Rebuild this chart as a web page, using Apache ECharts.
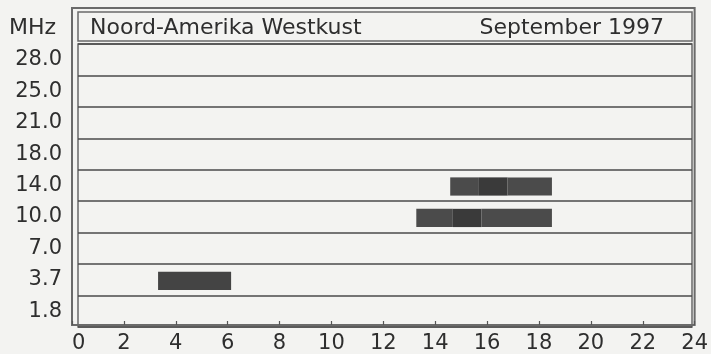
<!DOCTYPE html>
<html>
<head>
<meta charset="utf-8">
<script src="https://cdn.jsdelivr.net/npm/echarts@6/dist/echarts.min.js"></script>
<style>
  html, body { margin: 0; padding: 0; background: #f3f3f1; }
  #chart { width: 711px; height: 354px; }
</style>
</head>
<body>
<div id="chart"></div>
<script>
// Frequency bands (MHz), bottom to top
const bandLabels = ['1.8', '3.7', '7.0', '10.0', '14.0', '18.0', '21.0', '25.0', '28.0'];

// Open periods (UTC hours) per band, split where the shading changes
const openBand  = ['3.7', '10.0', '10.0', '10.0', '14.0', '14.0', '14.0'];
const openFrom  = [3.3, 13.2, 14.6, 15.7, 14.5, 15.6, 16.7];
const openTo    = [6.1, 14.6, 15.7, 18.4, 15.6, 16.7, 18.4];
const openLevel = [0, 1, 2, 1, 1, 2, 1];

const titleText = 'Noord-Amerika Westkust';
const periodText = 'September 1997';
const unitText = 'MHz';

const levelColors = ['#444444', '#4b4b4b', '#3a3a3a'];
const font = 'DejaVu Sans';
const ink = '#2e2e2e';
const frame = '#6a6a6a';

const openData = openBand.map((b, i) => [openFrom[i], openTo[i], b, openLevel[i]]);

const chart = echarts.init(document.getElementById('chart'), null, { renderer: 'canvas' });

const hiddenValueAxis = (gridIndex) => ({
  gridIndex, type: 'value', min: 0, max: 24, show: false
});

chart.setOption({
  backgroundColor: '#f3f3f1',
  animation: false,
  title: [
    { text: unitText, left: 9, top: 17, padding: 0,
      textStyle: { fontFamily: font, fontSize: 22, fontWeight: 'normal', color: ink } },
    { text: titleText, left: 90, top: 17, padding: 0,
      textStyle: { fontFamily: font, fontSize: 22, fontWeight: 'normal', color: ink } },
    { text: periodText, right: 47, top: 17, padding: 0,
      textStyle: { fontFamily: font, fontSize: 22, fontWeight: 'normal', color: ink } }
  ],
  grid: [
    // outer frame carrying the hour axis
    { left: 72, right: 13, top: 8, bottom: 24, show: true, borderColor: frame, borderWidth: 2, backgroundColor: 'transparent' },
    // header box
    { left: 78, right: 19, top: 12, bottom: 313, show: true, borderColor: frame, borderWidth: 1.5, backgroundColor: 'transparent' },
    // data area
    { left: 72, right: 13, top: 44, bottom: 27 },
    // inner frame with band separators
    { left: 78, right: 19, top: 44, bottom: 27, show: true, borderColor: frame, borderWidth: 1.5, backgroundColor: 'transparent' }
  ],
  xAxis: [
    {
      gridIndex: 0, type: 'value', min: 0, max: 24, interval: 2,
      axisLine: { show: false },
      axisTick: { show: true, inside: true, length: 4, lineStyle: { color: '#555', width: 1.2 } },
      splitLine: { show: false },
      axisLabel: { fontFamily: font, fontSize: 21, color: ink, margin: 8, alignMinLabel: 'left' }
    },
    hiddenValueAxis(1),
    hiddenValueAxis(2),
    hiddenValueAxis(3)
  ],
  yAxis: [
    { gridIndex: 0, type: 'value', show: false },
    { gridIndex: 1, type: 'value', show: false },
    {
      gridIndex: 2, type: 'category', data: bandLabels,
      axisLine: { show: false }, axisTick: { show: false }, splitLine: { show: false },
      axisLabel: { fontFamily: font, fontSize: 21, color: ink, margin: 10 }
    },
    {
      gridIndex: 3, type: 'category', data: bandLabels,
      axisLine: { show: false }, axisTick: { show: false },
      axisLabel: { show: false },
      splitLine: { show: true, lineStyle: { color: '#4a4a4a', width: 1.5 } }
    }
  ],
  series: [
    {
      type: 'custom',
      xAxisIndex: 2,
      yAxisIndex: 2,
      data: openData,
      encode: { x: [0, 1], y: 2 },
      renderItem: function (params, api) {
        const band = api.value(2);
        const p0 = api.coord([api.value(0), band]);
        const p1 = api.coord([api.value(1), band]);
        const h = api.size([0, 1])[1] * 0.58;
        return {
          type: 'rect',
          shape: { x: p0[0], y: p0[1] - h / 2 + 1, width: p1[0] - p0[0], height: h },
          style: { fill: levelColors[api.value(3)] }
        };
      }
    }
  ]
});
</script>
</body>
</html>
